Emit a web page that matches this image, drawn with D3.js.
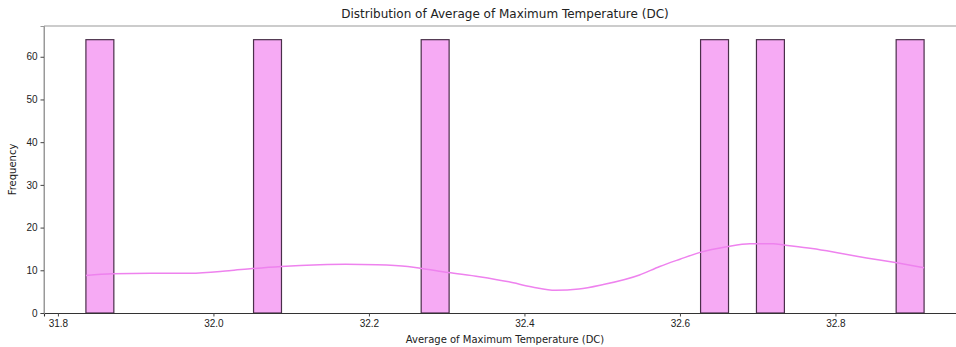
<!DOCTYPE html>
<html>
<head>
<meta charset="utf-8">
<script src="https://cdn.jsdelivr.net/npm/d3@7"></script>
<style>
  body { margin: 0; background: #fff; }
  svg { display: block; font-family: 'DejaVu Sans', sans-serif; }
</style>
</head>
<body>
<div id="chart"></div>
<script>
'use strict';

// distinct average max temperatures and how many rows carry each one
var tempValues = [31.836, 32.068, 32.284, 32.644, 32.716, 32.914];
var tempCounts = [64, 64, 64, 64, 64, 64];
var binCount = 30;

// kde curve (x value, scaled to counts)
var kdeX = [31.836, 31.87, 31.92, 31.97, 32.02, 32.05, 32.087, 32.137, 32.17, 32.21,
            32.25, 32.266, 32.302, 32.342, 32.38, 32.41, 32.44, 32.47, 32.5, 32.548,
            32.574, 32.6, 32.626, 32.66, 32.69, 32.72, 32.734, 32.77, 32.806, 32.84,
            32.877, 32.914];
var kdeY = [8.8, 9.2, 9.3, 9.3, 9.9, 10.4, 10.9, 11.3, 11.4, 11.3,
            10.9, 10.5, 9.5, 8.5, 7.3, 6.1, 5.3, 5.6, 6.6, 8.9,
            10.9, 12.6, 14.2, 15.5, 16.2, 16.2, 15.9, 15.1, 14.0, 12.9,
            11.8, 10.6];

var yTicks = [0, 10, 20, 30, 40, 50, 60];
var xTicks = [31.8, 32.0, 32.2, 32.4, 32.6, 32.8];

var width = 956;
var height = 347;
var margin = {top: 26, right: -10, bottom: 34, left: 44};

var svg = d3.select('#chart').append('svg')
        .attr('width', width)
        .attr('height', height);

// expand to raw rows, then bin like the original histogram
var rows = [];
tempValues.forEach(function(v, i) {
    for (var k = 0; k < tempCounts[i]; k++) rows.push(v);
});
var ext = d3.extent(rows);
var binW = (ext[1] - ext[0]) / binCount;
var bins = d3.bin()
        .domain(ext)
        .thresholds(d3.range(1, binCount).map(function(i) { return ext[0] + i * binW; }))(rows);

var span = ext[1] - ext[0];
var x = d3.scaleLinear()
        .domain([ext[0] - span * 0.05, ext[1] + span * 0.05])
        .range([margin.left, width - margin.right]);
var yMax = d3.max(bins, function(b) { return b.length; }) * 1.05;
var y = d3.scaleLinear()
        .domain([0, yMax])
        .range([height - margin.bottom, margin.top]);

// bars
svg.append('g').selectAll('rect')
        .data(bins.filter(function(b) { return b.length > 0; }))
        .join('rect')
        .attr('x', function(b) { return x(b.x0); })
        .attr('y', function(b) { return y(b.length); })
        .attr('width', function(b) { return x(b.x1) - x(b.x0); })
        .attr('height', function(b) { return y(0) - y(b.length); })
        .style('fill', '#f6aaf4')
        .style('stroke', '#4a2f4a')
        .style('stroke-width', 1.2);

// kde line
var line = d3.line()
        .x(function(d, i) { return x(kdeX[i]); })
        .y(function(d) { return y(d); })
        .curve(d3.curveMonotoneX);
svg.append('path')
        .datum(kdeY)
        .attr('d', line)
        .style('fill', 'none')
        .style('stroke', '#ee82ee')
        .style('stroke-width', 1.5);

// spines
svg.append('line')
        .attr('x1', margin.left).attr('x2', width)
        .attr('y1', margin.top).attr('y2', margin.top)
        .style('stroke', '#999').style('stroke-width', 1);
svg.append('line')
        .attr('x1', margin.left).attr('x2', margin.left)
        .attr('y1', margin.top).attr('y2', height - margin.bottom)
        .style('stroke', '#999').style('stroke-width', 1);

// axes
var xAxis = svg.append('g')
        .attr('transform', 'translate(0,' + (height - margin.bottom) + ')')
        .call(d3.axisBottom(x).tickValues(xTicks).tickFormat(d3.format('.1f')).tickSize(3.5).tickPadding(3));
var yAxis = svg.append('g')
        .attr('transform', 'translate(' + margin.left + ',0)')
        .call(d3.axisLeft(y).tickValues(yTicks).tickSize(3.5).tickPadding(3));

[xAxis, yAxis].forEach(function(ax) {
    ax.selectAll('text').style('font-size', '10px').style('fill', '#222');
    ax.selectAll('.tick line').style('stroke', '#444');
});
xAxis.select('.domain').style('stroke', '#333').style('stroke-width', 1.1);
yAxis.select('.domain').style('stroke', '#999');

// labels
var plotMid = (x.range()[0] + x.range()[1]) / 2;
svg.append('text')
        .attr('x', plotMid)
        .attr('y', 18)
        .attr('text-anchor', 'middle')
        .style('font-size', '12px')
        .style('fill', '#222')
        .text('Distribution of Average of Maximum Temperature (DC)');
svg.append('text')
        .attr('x', plotMid)
        .attr('y', 343)
        .attr('text-anchor', 'middle')
        .style('font-size', '10px')
        .style('fill', '#222')
        .text('Average of Maximum Temperature (DC)');
svg.append('text')
        .attr('transform', 'translate(16,' + ((margin.top + height - margin.bottom) / 2) + ') rotate(-90)')
        .attr('text-anchor', 'middle')
        .style('font-size', '10px')
        .style('fill', '#222')
        .text('Frequency');
</script>
</body>
</html>
